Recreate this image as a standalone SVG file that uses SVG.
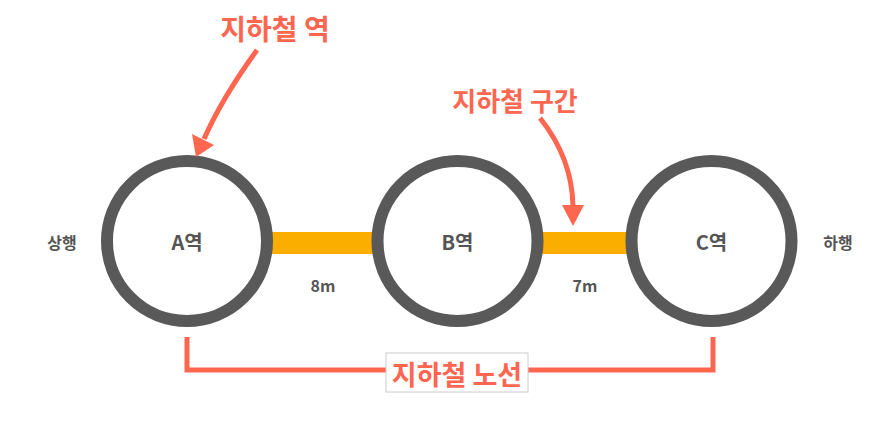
<svg xmlns="http://www.w3.org/2000/svg" width="873" height="422" viewBox="0 0 873 422">
<style>
.st{fill:#fff;stroke:#595959;stroke-width:12}
.lbl{font-family:"Noto Sans CJK KR","Noto Sans",sans-serif;font-weight:700;fill:#555;text-anchor:middle;dominant-baseline:central}
.red{font-family:"Noto Sans CJK KR","Noto Sans",sans-serif;font-weight:700;fill:#FF6650;text-anchor:middle;dominant-baseline:central}
.seg{fill:#FBAD00}
.ln{fill:none;stroke:#FF6650;stroke-width:5}
.head{fill:#FF6650}
</style>
<g id="segments">
<rect class="seg" x="270" y="232" width="106" height="22"/>
<rect class="seg" x="540" y="232" width="90" height="22"/>
</g>
<g id="stationA"><circle class="st" cx="187" cy="241" r="80"/><text class="lbl" x="187" y="241" font-size="20">A역</text></g>
<g id="stationB"><circle class="st" cx="457.5" cy="241" r="80"/><text class="lbl" x="457.5" y="241" font-size="20">B역</text></g>
<g id="stationC"><circle class="st" cx="711.5" cy="241" r="80"/><text class="lbl" x="711.5" y="241" font-size="20">C역</text></g>
<g id="up"><text class="lbl" x="62" y="242" font-size="16">상행</text></g>
<g id="down"><text class="lbl" x="838" y="242" font-size="16">하행</text></g>
<g id="d1"><text class="lbl" x="323" y="285" font-size="16">8m</text></g>
<g id="d2"><text class="lbl" x="585" y="285" font-size="16">7m</text></g>
<g id="title1"><text class="red" x="275" y="28" font-size="28">지하철 역</text></g>
<g id="title2"><text class="red" x="515" y="99" font-size="26">지하철 구간</text></g>
<g id="connectors">
<path class="ln" d="M257,50 Q222,98 204,139"/>
<polygon class="head" points="192,134 214,145 196,157"/>
<path class="ln" d="M540,118 Q572,158 573,206"/>
<polygon class="head" points="562,205 584,205 573,226"/>
<path class="ln" d="M187,337 V370 H713 V337"/>
</g>
<g id="route">
<rect x="386" y="353" width="142" height="39" fill="#fff" stroke="#ccc" stroke-width="1"/>
<text class="red" x="457" y="373" font-size="27">지하철 노선</text>
</g>
</svg>
